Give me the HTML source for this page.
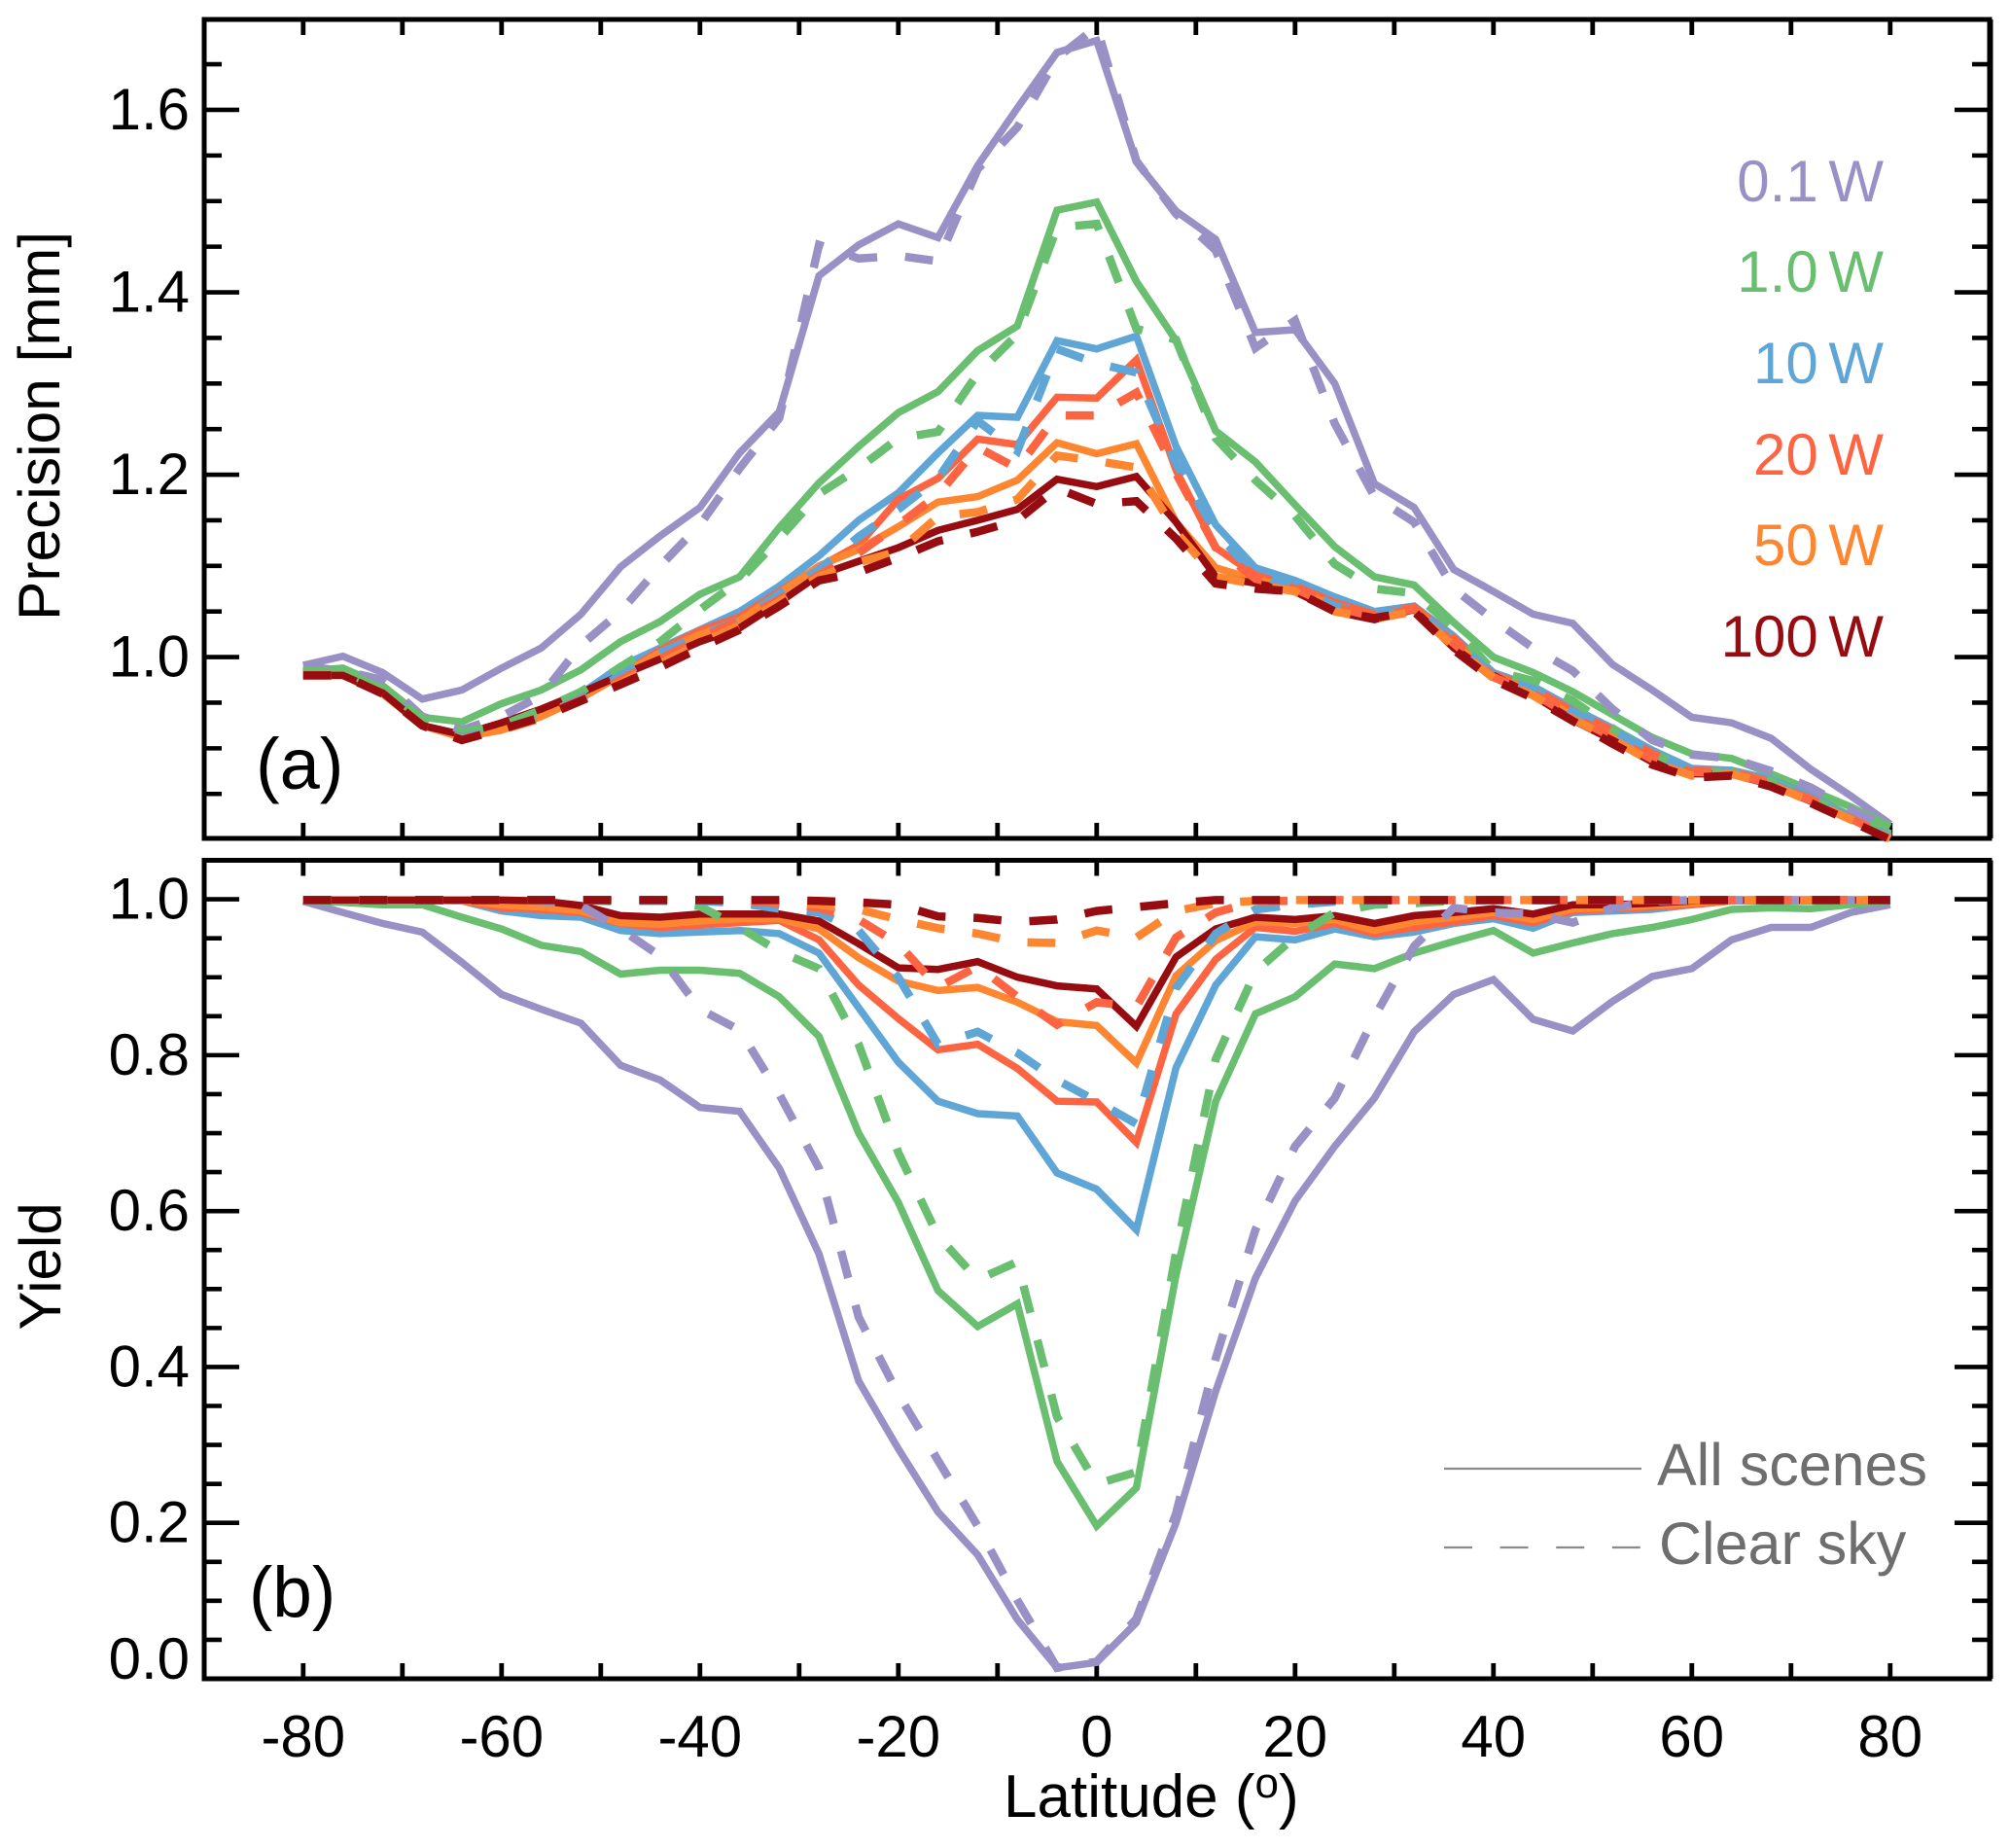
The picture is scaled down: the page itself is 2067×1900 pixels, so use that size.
<!DOCTYPE html>
<html lang="en">
<head>
<meta charset="utf-8">
<title>Precision and yield by latitude</title>
<style>
html,body{margin:0;padding:0;background:#fff;width:2067px;height:1900px;overflow:hidden}
svg{display:block;font-family:"Liberation Sans",Arial,sans-serif}
</style>
</head>
<body>
<svg id="chart" xmlns="http://www.w3.org/2000/svg" width="2067" height="1900" viewBox="0 0 2067 1900">
  <rect x="0" y="0" width="2067" height="1900" fill="#ffffff"/>
  <g id="axes"></g>
  <g id="series"></g>

  <text transform="translate(61,438) rotate(-90)" text-anchor="middle" font-size="60.5" fill="#000">Precision [mm]</text>
  <text transform="translate(62,1302) rotate(-90)" text-anchor="middle" font-size="60" fill="#000">Yield</text>
  <text x="1032" y="1868" font-size="62" fill="#000">Latitude (<tspan dy="-20" font-size="44">o</tspan><tspan dy="20">)</tspan></text>

  <text x="263" y="811" font-size="74" fill="#000">(a)</text>
  <text x="256" y="1662" font-size="73" fill="#000">(b)</text>

  <g font-size="60" text-anchor="end" word-spacing="-6">
    <text x="1937" y="207" fill="#9990C5">0.1 W</text>
    <text x="1937" y="300" fill="#69BE6F">1.0 W</text>
    <text x="1937" y="394" fill="#5FA6D6">10 W</text>
    <text x="1937" y="488" fill="#FC6442">20 W</text>
    <text x="1937" y="581" fill="#FE8630">50 W</text>
    <text x="1937" y="675" fill="#970C10">100 W</text>
  </g>

  <g>
    <line x1="1485" y1="1510" x2="1688" y2="1510" stroke="#8a8a8a" stroke-width="2.2"/>
    <text x="1704" y="1527" font-size="61" fill="#6e6e6e">All scenes</text>
    <line x1="1485" y1="1591" x2="1688" y2="1591" stroke="#8a8a8a" stroke-width="2.2" stroke-dasharray="29 28.6"/>
    <text x="1706" y="1608" font-size="61" fill="#6e6e6e">Clear sky</text>
  </g>
</svg>

<script>
const latitudes = [-80,-76,-72,-68,-64,-60,-56,-52,-48,-44,-40,-36,-32,-28,-24,-20,-16,-12,-8,-4,0,4,8,12,16,20,24,28,32,36,40,44,48,52,56,60,64,68,72,76,80];

const xTickValues = [-80,-70,-60,-50,-40,-30,-20,-10,0,10,20,30,40,50,60,70,80];
const xTickLabels = ["-80","-60","-40","-20","0","20","40","60","80"];
const xTickLabelValues = [-80,-60,-40,-20,0,20,40,60,80];
const precisionTickValues = [1.0,1.2,1.4,1.6];
const precisionTickLabels = ["1.0","1.2","1.4","1.6"];
const precisionMinorValues = [0.85,0.9,0.95,1.05,1.1,1.15,1.25,1.3,1.35,1.45,1.5,1.55,1.65];
const yieldTickValues = [0.0,0.2,0.4,0.6,0.8,1.0];
const yieldTickLabels = ["0.0","0.2","0.4","0.6","0.8","1.0"];
const yieldMinorValues = [0.05,0.1,0.15,0.25,0.3,0.35,0.45,0.5,0.55,0.65,0.7,0.75,0.85,0.9,0.95];

const precisionAll01W = [.991,1.001,.983,.954,.964,.988,1.010,1.047,1.099,1.133,1.164,1.224,1.269,1.418,1.452,1.475,1.460,1.539,1.602,1.663,1.676,1.543,1.489,1.458,1.356,1.359,1.300,1.190,1.164,1.096,1.072,1.047,1.037,.992,.964,.934,.928,.911,.877,.848,.817];
const precisionAll1W = [.985,.988,.969,.934,.929,.949,.964,.986,1.017,1.039,1.069,1.088,1.142,1.191,1.231,1.268,1.291,1.336,1.363,1.490,1.499,1.412,1.347,1.248,1.214,1.167,1.121,1.088,1.079,1.038,1.000,.983,.962,.937,.912,.894,.889,.872,.854,.836,.814];
const precisionAll10W = [.98,.98,.96,.925,.915,.925,.94,.96,.990,1.010,1.030,1.05,1.078,1.111,1.150,1.180,1.224,1.265,1.263,1.347,1.338,1.352,1.231,1.145,1.098,1.084,1.066,1.050,1.056,1.023,.983,.968,.944,.922,.898,.878,.876,.866,.848,.826,.805];
const precisionAll20W = [.98,.98,.96,.925,.912,.92,.935,.955,.98,1.008,1.029,1.044,1.072,1.099,1.123,1.173,1.196,1.239,1.233,1.285,1.284,1.326,1.205,1.12,1.09,1.078,1.06,1.047,1.055,1.021,.981,.966,.941,.920,.895,.876,.875,.863,.845,.825,.804];
const precisionAll50W = [.98,.98,.96,.925,.912,.92,.935,.955,.98,1.005,1.025,1.04,1.07,1.10,1.118,1.143,1.17,1.176,1.194,1.235,1.223,1.234,1.148,1.098,1.085,1.075,1.055,1.044,1.053,1.015,.98,.961,.936,.913,.888,.874,.874,.862,.844,.824,.803];
const precisionAll100W = [.98,.98,.961,.925,.915,.928,.943,.961,.98,.998,1.017,1.032,1.06,1.09,1.105,1.12,1.139,1.15,1.162,1.195,1.187,1.198,1.148,1.088,1.081,1.072,1.05,1.041,1.052,1.010,.98,.958,.931,.909,.885,.872,.872,.86,.842,.823,.802];

const precisionClear01W = [.990,.985,.975,.935,.920,.935,.958,1.013,1.050,1.100,1.145,1.207,1.262,1.452,1.437,1.440,1.434,1.535,1.581,1.657,1.691,1.544,1.486,1.446,1.339,1.369,1.256,1.176,1.148,1.075,1.041,1.010,.985,.943,.909,.893,.889,.875,.857,.833,.812];
const precisionClear1W = [.985,.985,.965,.933,.918,.925,.942,.962,.989,1.017,1.052,1.084,1.130,1.179,1.207,1.240,1.247,1.311,1.354,1.471,1.475,1.360,1.348,1.240,1.194,1.155,1.102,1.075,1.070,1.032,.985,.974,.952,.922,.895,.875,.874,.864,.845,.826,.806];
const precisionClear10W = [.98,.98,.96,.925,.912,.92,.935,.955,.98,1.005,1.023,1.041,1.069,1.096,1.132,1.162,1.196,1.259,1.226,1.338,1.322,1.312,1.212,1.137,1.09,1.078,1.056,1.047,1.053,1.02,.98,.965,.94,.92,.895,.875,.873,.862,.844,.824,.803];
const precisionClear20W = [.98,.98,.96,.925,.91,.92,.935,.953,.975,.998,1.02,1.041,1.063,1.09,1.114,1.145,1.178,1.230,1.207,1.265,1.265,1.290,1.2015,1.12,1.086,1.075,1.055,1.044,1.053,1.015,.978,.96,.935,.912,.888,.874,.873,.861,.843,.823,.802];
const precisionClear50W = [.98,.98,.96,.925,.91,.92,.933,.952,.972,.993,1.015,1.035,1.06,1.088,1.104,1.116,1.154,1.159,1.173,1.221,1.215,1.208,1.137,1.088,1.08,1.072,1.05,1.042,1.05,1.012,.977,.958,.932,.91,.885,.87,.872,.86,.842,.822,.801];
const precisionClear100W = [.98,.98,.96,.925,.909,.921,.934,.952,.97,.989,1.01,1.03,1.056,1.084,1.093,1.109,1.127,1.1375,1.15,1.185,1.168,1.171,1.13,1.0806,1.075,1.072,1.05,1.043,1.05,1.008,.975,.955,.93,.905,.882,.868,.87,.858,.84,.82,.8];

const yieldAll01W = [.9975,.983,.969,.958,.919,.878,.859,.841,.787,.768,.733,.728,.655,.545,.382,.295,.214,.159,.076,.014,.021,.072,.2,.369,.514,.613,.683,.745,.83,.878,.897,.846,.831,.869,.901,.911,.948,.964,.964,.983,.993];
const yieldAll1W = [.998,.996,.993,.993,.977,.962,.941,.933,.904,.909,.909,.905,.875,.824,.70,.611,.498,.452,.481,.279,.196,.245,.518,.741,.853,.875,.917,.911,.931,.946,.96,.931,.944,.956,.964,.974,.987,.989,.988,.993,.998];
const yieldAll10W = [.999,.999,.999,.999,.998,.985,.979,.977,.96,.956,.958,.96,.956,.931,.861,.791,.741,.725,.722,.649,.628,.576,.784,.89,.952,.948,.962,.952,.958,.969,.975,.963,.983,.985,.987,.993,.998,.998,.998,.998,.999];
const yieldAll20W = [.999,.999,.999,.999,.998,.989,.987,.983,.969,.964,.967,.97,.973,.948,.89,.847,.807,.814,.783,.741,.74,.688,.853,.923,.964,.959,.969,.956,.964,.971,.979,.97,.985,.988,.99,.993,.998,.998,.998,.998,.999];
const yieldAll50W = [.999,.999,.999,.999,.998,.993,.99,.985,.97,.968,.972,.975,.975,.962,.925,.895,.883,.887,.868,.843,.838,.79,.902,.947,.971,.969,.974,.96,.971,.977,.983,.974,.988,.989,.992,.995,.998,.998,.998,.998,.999];
const yieldAll100W = [.999,.999,.999,.999,.999,.999,.998,.992,.979,.977,.981,.981,.981,.972,.943,.912,.91,.92,.9,.889,.885,.837,.926,.962,.977,.974,.979,.969,.979,.983,.988,.981,.993,.993,.995,.998,.999,.999,.999,.999,.999];

const yieldClear01W = [.999,.999,.999,.999,.999,.999,.998,.992,.962,.927,.859,.832,.75,.655,.464,.365,.28,.196,.101,.014,.022,.077,.212,.411,.576,.683,.745,.849,.94,.989,.983,.981,.97,.989,.9975,.999,.999,.999,.999,.999,.999];
const yieldClear1W = [.999,.999,.999,.999,.999,.999,.999,.999,.997,.999,.991,.964,.933,.911,.814,.675,.568,.512,.535,.336,.25,.265,.547,.795,.907,.952,.983,.993,.995,.998,.999,.999,.999,.999,.999,.999,.999,.999,.999,.999,.999];
const yieldClear10W = [.999,.999,.999,.999,.999,.999,.999,.999,.998,.998,.998,.995,.988,.983,.96,.9,.814,.83,.803,.768,.741,.712,.886,.956,.987,.993,.997,.998,.999,.999,.999,.999,.999,.999,.999,.999,.999,.999,.999,.999,.999];
const yieldClear20W = [.999,.999,.999,.999,.999,.999,.999,.999,.999,.999,.999,.998,.995,.989,.974,.943,.887,.914,.875,.839,.868,.862,.951,.983,.9975,.998,.999,.999,.999,.999,.999,.999,.999,.999,.999,.999,.999,.999,.999,.999,.999];
const yieldClear50W = [.999,.999,.999,.999,.999,.999,.999,.999,.999,.999,.999,.999,.998,.993,.987,.974,.963,.956,.945,.944,.96,.951,.985,.995,.998,.999,.999,.999,.999,.999,.999,.999,.999,.999,.999,.999,.999,.999,.999,.999,.999];
const yieldClear100W = [.999,.999,.999,.999,.999,.999,.999,.999,.999,.999,.999,.999,.999,.998,.996,.993,.978,.976,.971,.974,.985,.99,.995,.999,.999,.999,.999,.999,.999,.999,.999,.999,.999,.999,.999,.999,.999,.999,.999,.999,.999];

const powerNames = ["0-1w","1w","10w","20w","50w","100w"];
const powerColors = ["#9990C5","#69BE6F","#5FA6D6","#FC6442","#FE8630","#970C10"];
const precisionAllSeries = [precisionAll01W,precisionAll1W,precisionAll10W,precisionAll20W,precisionAll50W,precisionAll100W];
const precisionClearSeries = [precisionClear01W,precisionClear1W,precisionClear10W,precisionClear20W,precisionClear50W,precisionClear100W];
const yieldAllSeries = [yieldAll01W,yieldAll1W,yieldAll10W,yieldAll20W,yieldAll50W,yieldAll100W];
const yieldClearSeries = [yieldClear01W,yieldClear1W,yieldClear10W,yieldClear20W,yieldClear50W,yieldClear100W];

const SVG_NS = "http://www.w3.org/2000/svg";
const FRAME_LEFT = 210, FRAME_RIGHT = 2046;
const TOP_PANEL = {top: 20, bottom: 862};
const BOTTOM_PANEL = {top: 884.5, bottom: 1726};

function xScale(lat) { return 1127.8 + lat * 10.2; }
function precisionScale(v) { return 675.6 - (v - 1.0) * 937.7; }
function yieldScale(v) { return 1726 - v * 801.4; }

function make(tag, attrs, parent) {
  const el = document.createElementNS(SVG_NS, tag);
  for (const k in attrs) el.setAttribute(k, attrs[k]);
  parent.appendChild(el);
  return el;
}

const axesGroup = document.getElementById("axes");
const seriesGroup = document.getElementById("series");

function drawLine(x1, y1, x2, y2, width, name) {
  const el = make("line", {x1: x1, y1: y1, x2: x2, y2: y2, stroke: "#000", "stroke-width": width}, axesGroup);
  
  
  return el;
}

function drawPanelFrame(panel, panelName) {
  const frame = make("rect", {x: FRAME_LEFT, y: panel.top, width: FRAME_RIGHT - FRAME_LEFT, height: panel.bottom - panel.top, fill: "none", stroke: "#000", "stroke-width": 5}, axesGroup);
  
  
  drawLine(FRAME_RIGHT + 0.5, panel.top, FRAME_RIGHT + 0.5, panel.bottom, 6, panelName + '-right-spine');
  xTickValues.forEach(function (lat) {
    const x = xScale(lat);
    drawLine(x, panel.top, x, panel.top + 16, 4.8, panelName + '-x-tick-top');
    drawLine(x, panel.bottom, x, panel.bottom - 16, 4.8, panelName + '-x-tick-bottom');
  });
}

function drawYTicks(values, scale, length, panelName, kind) {
  values.forEach(function (v) {
    const y = scale(v);
    drawLine(FRAME_LEFT, y, FRAME_LEFT + length, y, 4.6, panelName + '-y-' + kind + '-tick-left');
    drawLine(FRAME_RIGHT, y, FRAME_RIGHT - length, y, 4.6, panelName + '-y-' + kind + '-tick-right');
  });
}

function drawYLabels(values, labels, scale, panelName) {
  values.forEach(function (v, i) {
    const nudge = v === 0 ? -20 : 0;
    const t = make("text", {x: 195, y: scale(v) + 20 + nudge, "text-anchor": "end", "font-size": 60, fill: "#000"}, axesGroup);
    t.textContent = labels[i];
    
    
  });
}

function drawSeries(values, scale, color, dashed, name) {
  const pts = values.map(function (v, i) {
    return xScale(latitudes[i]).toFixed(1) + "," + scale(v).toFixed(1);
  }).join(" ");
  const el = make("polyline", {
    points: pts, fill: "none", stroke: color,
    "stroke-width": dashed ? 8.5 : 7.5,
    "stroke-linejoin": "miter", "stroke-miterlimit": 6, "stroke-linecap": "butt"
  }, seriesGroup);
  if (dashed) el.setAttribute("stroke-dasharray", "28.8 28.8");
  
  
}

drawPanelFrame(TOP_PANEL, "precision-panel");
drawPanelFrame(BOTTOM_PANEL, "yield-panel");
drawYTicks(precisionTickValues, precisionScale, 36, "precision", "major");
drawYTicks(precisionMinorValues, precisionScale, 18, "precision", "minor");
drawYTicks(yieldTickValues.filter(function (v) { return v > 0; }), yieldScale, 36, "yield", "major");
drawYTicks(yieldMinorValues, yieldScale, 18, "yield", "minor");
drawYLabels(precisionTickValues, precisionTickLabels, precisionScale, "precision");
drawYLabels(yieldTickValues, yieldTickLabels, yieldScale, "yield");

xTickLabelValues.forEach(function (lat, i) {
  const t = make("text", {x: xScale(lat), y: 1806, "text-anchor": "middle", "font-size": 60, fill: "#000"}, axesGroup);
  t.textContent = xTickLabels[i];
  
  
});

powerNames.forEach(function (p, i) {
  drawSeries(precisionAllSeries[i], precisionScale, powerColors[i], false, "precision-all-scenes-" + p);
});
powerNames.forEach(function (p, i) {
  drawSeries(precisionClearSeries[i], precisionScale, powerColors[i], true, "precision-clear-sky-" + p);
});
powerNames.forEach(function (p, i) {
  drawSeries(yieldAllSeries[i], yieldScale, powerColors[i], false, "yield-all-scenes-" + p);
});
powerNames.forEach(function (p, i) {
  drawSeries(yieldClearSeries[i], yieldScale, powerColors[i], true, "yield-clear-sky-" + p);
});
</script>
</body>
</html>
